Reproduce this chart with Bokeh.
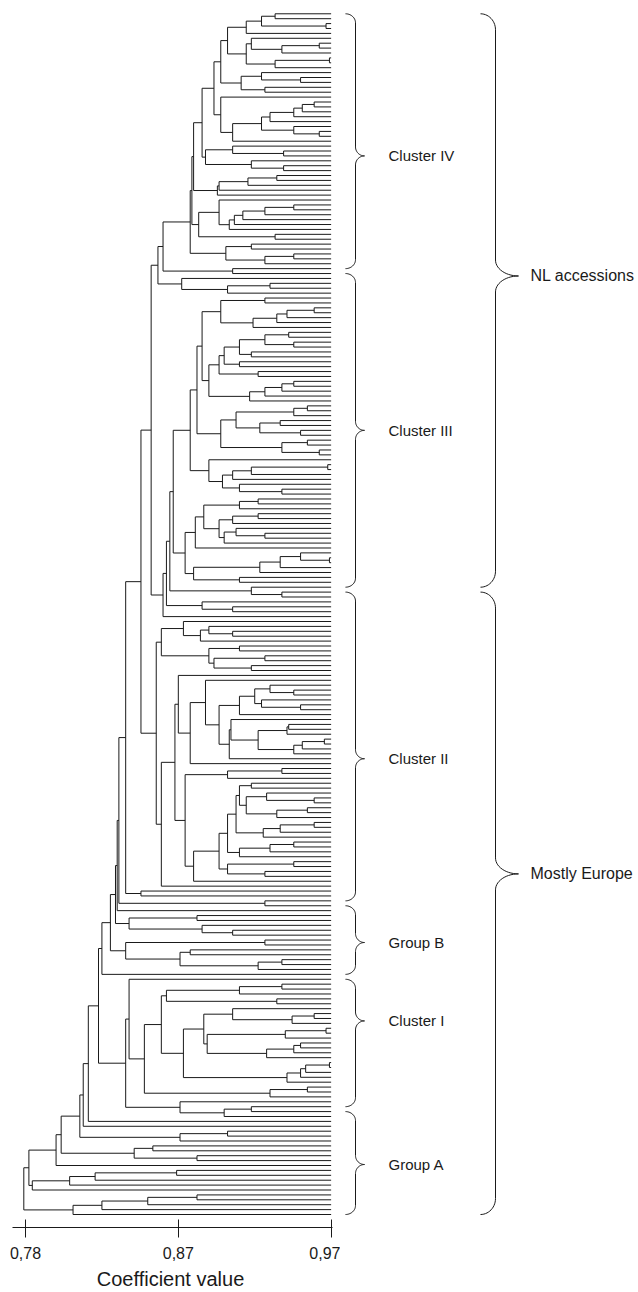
import math
from bokeh.plotting import figure
from bokeh.layouts import row
from bokeh.models import Range1d, FixedTicker, CustomJSTickFormatter
from bokeh.embed import file_html
from bokeh.resources import INLINE
from bokeh.core.properties import value

# ---------------- data ----------------
# Coefficient value at which each leaf joins the next leaf below it
# (leaves listed top to bottom; the tree is rebuilt from these join levels)
MERGE_HEIGHTS = [
    # Cluster IV
    0.927, 0.919, 0.957, 0.910, 0.899, 0.913, 0.953, 0.931, 0.910, 0.959,
    0.927, 0.895, 0.919, 0.942, 0.907, 0.921, 0.891, 0.895, 0.950, 0.943,
    0.938, 0.924, 0.919, 0.938, 0.953, 0.902, 0.884, 0.902, 0.932, 0.886,
    0.913, 0.932, 0.879, 0.928, 0.911, 0.894, 0.893, 0.878, 0.894, 0.938,
    0.921, 0.908, 0.903, 0.900, 0.882, 0.927, 0.877, 0.913, 0.898, 0.938,
    0.921, 0.861, 0.902, 0.858, 0.872, 0.924, 0.899, 0.854,
    # Cluster III
    0.921, 0.895, 0.950, 0.934, 0.928, 0.914, 0.884, 0.935, 0.921, 0.938,
    0.906, 0.913, 0.897, 0.906, 0.894, 0.917, 0.888, 0.938, 0.931, 0.921,
    0.912, 0.881, 0.946, 0.938, 0.904, 0.930, 0.918, 0.942, 0.895, 0.946,
    0.931, 0.953, 0.877, 0.888, 0.958, 0.913, 0.902, 0.896, 0.906, 0.931,
    0.867, 0.917, 0.906, 0.885, 0.917, 0.902, 0.894, 0.904, 0.921, 0.897,
    0.880, 0.874, 0.942, 0.959, 0.930, 0.918, 0.879, 0.906, 0.865, 0.913,
    0.931, 0.863, 0.884, 0.902, 0.861, 0.848,
    # Cluster II
    0.873, 0.888, 0.902, 0.883, 0.860, 0.906, 0.888, 0.921, 0.891, 0.913,
    0.857, 0.870, 0.886, 0.924, 0.938, 0.915, 0.919, 0.942, 0.906, 0.894,
    0.901, 0.935, 0.934, 0.917, 0.956, 0.943, 0.938, 0.900, 0.877, 0.868,
    0.931, 0.899, 0.874, 0.913, 0.906, 0.922, 0.950, 0.910, 0.946, 0.928,
    0.904, 0.950, 0.930, 0.920, 0.899, 0.938, 0.924, 0.906, 0.894, 0.938,
    0.899, 0.921, 0.879, 0.860, 0.839, 0.848,
    # Group B
    0.835, 0.921, 0.834, 0.833, 0.881, 0.841, 0.884, 0.902, 0.830, 0.921,
    0.839, 0.877, 0.871, 0.931, 0.917, 0.825, 0.823,
    # Cluster I
    0.841, 0.931, 0.906, 0.863, 0.928, 0.860, 0.902, 0.950, 0.937, 0.885,
    0.957, 0.933, 0.887, 0.942, 0.938, 0.922, 0.873, 0.959, 0.945, 0.942,
    0.934, 0.850, 0.946, 0.924, 0.839, 0.871, 0.913, 0.897,
    # Group A
    0.817, 0.814, 0.812, 0.899, 0.871, 0.801, 0.855, 0.844, 0.881, 0.798,
    0.782, 0.869, 0.821, 0.806, 0.784, 0.779, 0.881, 0.852, 0.825, 0.808,
]
LEAF_LEVEL = 0.96
TICK_VALUES = [0.78, 0.87, 0.96]
TICK_LABELS = ["0,78", "0,87", "0,97"]
AXIS_TITLE = "Coefficient value"
GROUP_NAMES = ["Cluster IV", "Cluster III", "Cluster II", "Group B", "Cluster I", "Group A"]
GROUP_FIRST = [0, 53, 118, 182, 197, 224]
GROUP_LAST = [52, 117, 181, 196, 223, 245]
GROUP_LABEL_AT = [29.0, 85.0, 152.0, 189.5, 205.5, 234.8]
REGION_NAMES = ["NL accessions", "Mostly Europe"]
REGION_FIRST = [0, 118]
REGION_LAST = [117, 245]
REGION_LABEL_AT = [53.5, 175.5]

N = len(MERGE_HEIGHTS) + 1

# ---------------- layout (page pixels) ----------------
W_LEFT, W_RIGHT, H = 340, 298, 1292
BOTTOM = 64
FRAME_H = H - BOTTOM
PX = 1698.0            # pixels per coefficient unit
X078 = 25.0            # x of 0.78
TOP_LEAF = 13.3        # y of first leaf
BOT_LEAF = 1215.0      # y of last leaf
SP = (BOT_LEAF - TOP_LEAF) / (N - 1)

x_start = 0.78 - X078 / PX
x_end = x_start + W_LEFT / PX
y_top = -TOP_LEAF / SP
y_bot = y_top + FRAME_H / SP
yr = Range1d(y_bot, y_top)

p = figure(width=W_LEFT, height=H, output_backend="svg", toolbar_location=None,
           x_range=Range1d(x_start, x_end), y_range=yr,
           y_axis_location=None, min_border_left=0, min_border_right=0,
           min_border_top=0, min_border_bottom=BOTTOM)
p.grid.visible = False
p.outline_line_color = None

# ---------------- dendrogram ----------------
X0, Y0, X1, Y1 = [], [], [], []

def build(a, b):
    if a == b:
        return LEAF_LEVEL, float(a)
    k = min(range(a, b), key=lambda j: MERGE_HEIGHTS[j])
    h = MERGE_HEIGHTS[k]
    xa, ya = build(a, k)
    xb, yb = build(k + 1, b)
    X0.extend([h, h, h]); Y0.extend([ya, yb, ya])
    X1.extend([xa, xb, h]); Y1.extend([ya, yb, yb])
    return h, (ya + yb) / 2.0

build(0, N - 1)
p.segment(x0=X0, y0=Y0, x1=X1, y1=Y1, line_color="#1a1a1a", line_width=1)

# ---------------- axis ----------------
ax = p.xaxis[0]
ax.ticker = FixedTicker(ticks=TICK_VALUES)
ax.formatter = CustomJSTickFormatter(args=dict(vals=TICK_VALUES, labs=TICK_LABELS), code="""
let best = 0, d = Infinity;
for (let i = 0; i < vals.length; i++) {
  const e = Math.abs(vals[i] - tick);
  if (e < d) { d = e; best = i; }
}
return labs[best];
""")
ax.bounds = (0.78 - 13 / PX, LEAF_LEVEL + 1 / PX)
ax.major_tick_in = 8
ax.major_tick_out = 10
ax.minor_tick_line_color = None
ax.axis_line_color = "#1a1a1a"
ax.major_tick_line_color = "#1a1a1a"
ax.major_label_text_font = "Liberation Sans"
ax.major_label_text_font_size = "16px"
ax.major_label_text_color = "#1a1a1a"
ax.major_label_standoff = 9
ax.axis_label = AXIS_TITLE
ax.axis_label_text_font = "Liberation Sans"
ax.axis_label_text_font_size = "20px"
ax.axis_label_text_font_style = "normal"
ax.axis_label_text_color = "#1a1a1a"
ax.axis_label_standoff = 6

# ---------------- braces and group labels (right panel, pixel x) ----------------
q = figure(width=W_RIGHT, height=H, output_backend="svg", toolbar_location=None,
           x_range=Range1d(W_LEFT, W_LEFT + W_RIGHT), y_range=yr,
           x_axis_location=None, y_axis_location=None,
           min_border_left=0, min_border_right=0, min_border_top=0,
           min_border_bottom=BOTTOM)
q.grid.visible = False
q.outline_line_color = None

def brace(first, last, tip_at, x_px, spine_px, tip_px, r_px, steps=14):
    yt, yb, ym = float(first), float(last), float(tip_at)
    r = r_px / SP
    xs, ys = [], []
    a = spine_px
    b = tip_px - spine_px
    for i in range(steps + 1):
        t = (math.pi / 2) * i / steps
        xs.append(x_px + a * math.sin(t)); ys.append(yt + r * (1 - math.cos(t)))
    for i in range(steps + 1):
        t = (math.pi / 2) * i / steps
        xs.append(x_px + a + b * (1 - math.cos(t))); ys.append(ym - r + r * math.sin(t))
    for i in range(steps, -1, -1):
        t = (math.pi / 2) * i / steps
        xs.append(x_px + a + b * (1 - math.cos(t))); ys.append(ym + r - r * math.sin(t))
    for i in range(steps, -1, -1):
        t = (math.pi / 2) * i / steps
        xs.append(x_px + a * math.sin(t)); ys.append(yb - r * (1 - math.cos(t)))
    return xs, ys

bx, by = [], []
for f, l, m in zip(GROUP_FIRST, GROUP_LAST, GROUP_LABEL_AT):
    xs, ys = brace(f, l, m, 345, 10, 19, 9)
    bx.append(xs); by.append(ys)
for f, l, m in zip(REGION_FIRST, REGION_LAST, REGION_LABEL_AT):
    xs, ys = brace(f, l, m, 480, 15, 38, 16)
    bx.append(xs); by.append(ys)
q.multi_line(xs=bx, ys=by, line_color="#1a1a1a", line_width=1)

q.text(x=[388] * len(GROUP_NAMES), y=GROUP_LABEL_AT,
       text=GROUP_NAMES, text_font=value("Liberation Sans"), text_font_size="15px",
       text_baseline="middle", text_align="left", text_color="#1a1a1a")
q.text(x=[530] * len(REGION_NAMES), y=REGION_LABEL_AT,
       text=REGION_NAMES, text_font=value("Liberation Sans"), text_font_size="16px",
       text_baseline="middle", text_align="left", text_color="#1a1a1a")

layout = row(p, q, spacing=0)
open("out.html", "w").write(file_html(layout, INLINE))
